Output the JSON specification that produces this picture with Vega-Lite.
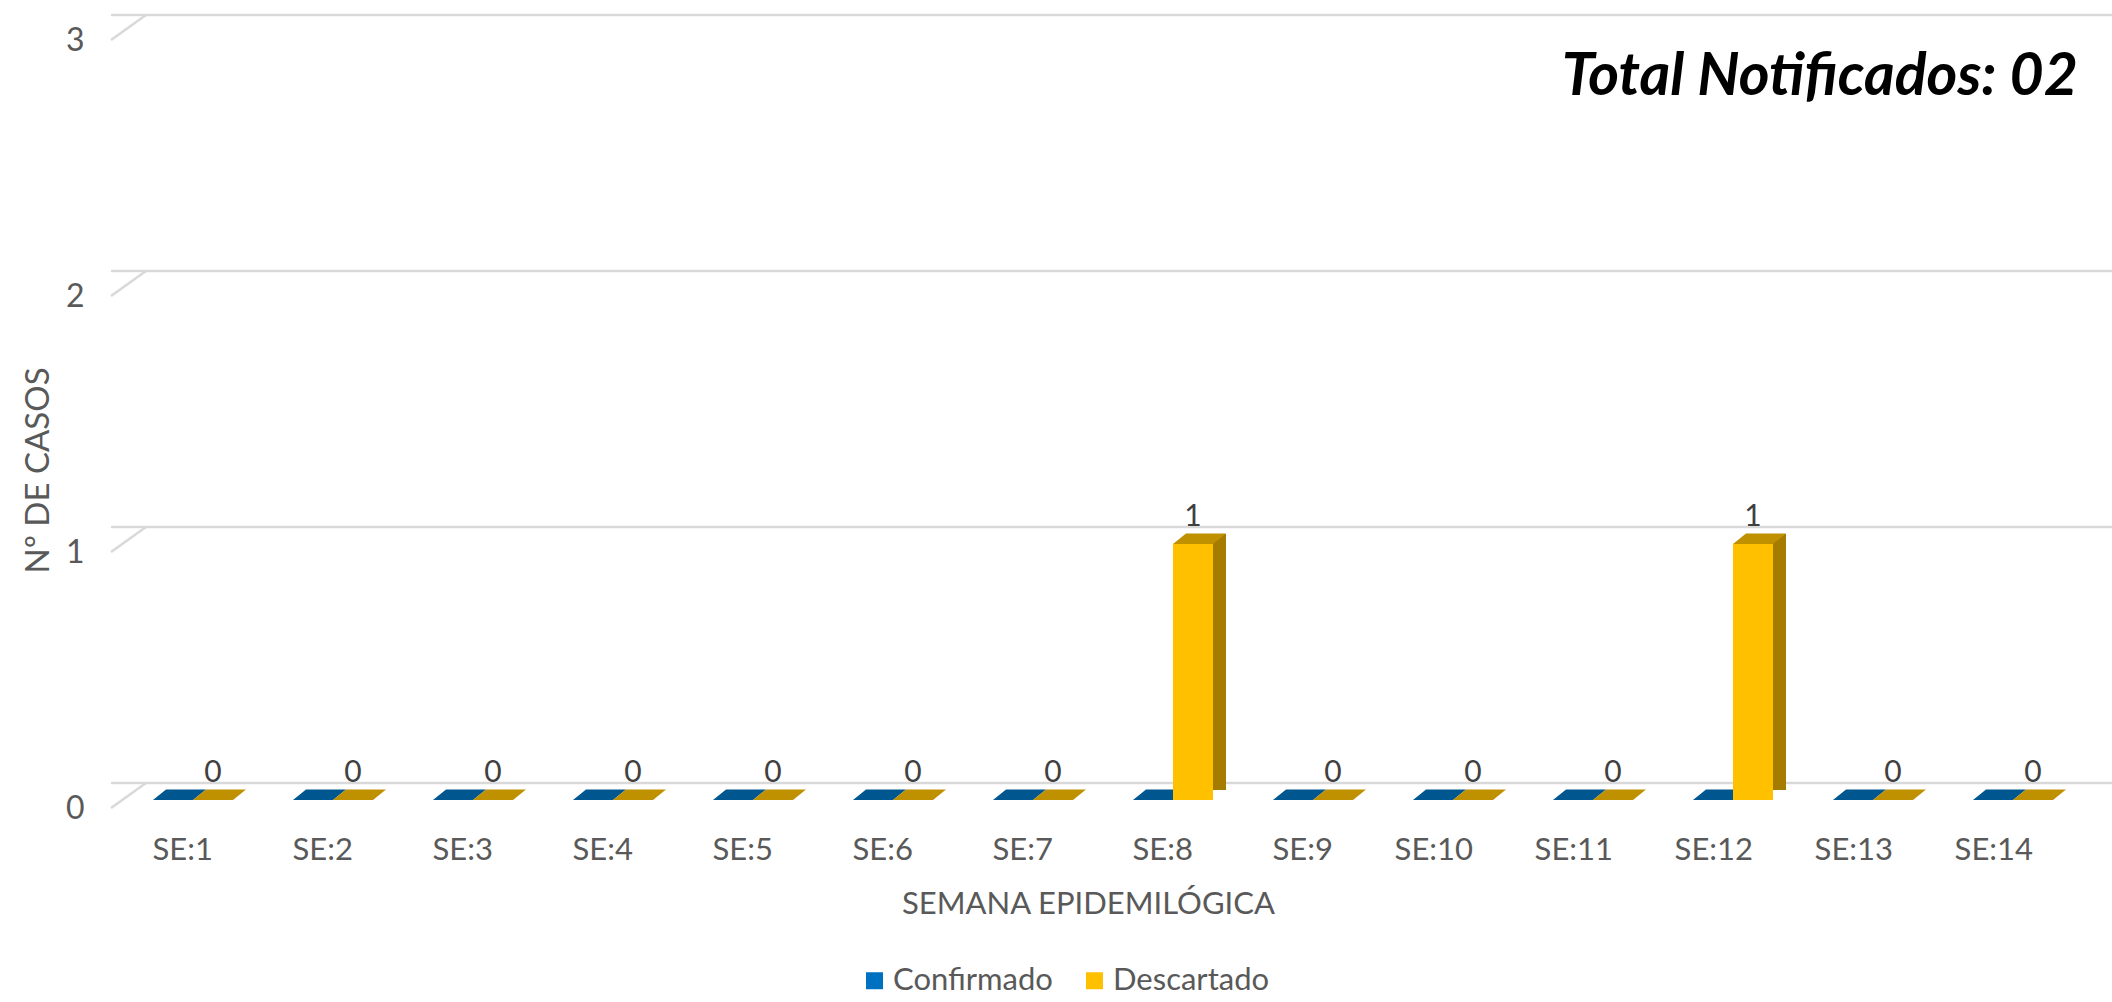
{
  "$schema": "https://vega.github.io/schema/vega-lite/v6.json",
  "width": 1984,
  "height": 768,
  "autosize": {"type": "none"},
  "padding": {"left": 111, "top": 32, "right": 17, "bottom": 202},
  "background": "white",
  "config": {"view": {"stroke": null}, "font": "Lato"},
  "title": {
    "text": "Total Notificados: 02",
    "orient": "top",
    "anchor": "end",
    "frame": "group",
    "offset": 0,
    "dx": -17,
    "dy": 140,
    "baseline": "alphabetic",
    "font": "Lato",
    "fontSize": 59,
    "fontStyle": "italic",
    "fontWeight": "bold",
    "color": "#000000"
  },
  "datasets": {
    "casos": [
      {"semana": "SE:1", "serie": "Confirmado", "casos": 0},
      {"semana": "SE:2", "serie": "Confirmado", "casos": 0},
      {"semana": "SE:3", "serie": "Confirmado", "casos": 0},
      {"semana": "SE:4", "serie": "Confirmado", "casos": 0},
      {"semana": "SE:5", "serie": "Confirmado", "casos": 0},
      {"semana": "SE:6", "serie": "Confirmado", "casos": 0},
      {"semana": "SE:7", "serie": "Confirmado", "casos": 0},
      {"semana": "SE:8", "serie": "Confirmado", "casos": 0},
      {"semana": "SE:9", "serie": "Confirmado", "casos": 0},
      {"semana": "SE:10", "serie": "Confirmado", "casos": 0},
      {"semana": "SE:11", "serie": "Confirmado", "casos": 0},
      {"semana": "SE:12", "serie": "Confirmado", "casos": 0},
      {"semana": "SE:13", "serie": "Confirmado", "casos": 0},
      {"semana": "SE:14", "serie": "Confirmado", "casos": 0},
      {"semana": "SE:1", "serie": "Descartado", "casos": 0},
      {"semana": "SE:2", "serie": "Descartado", "casos": 0},
      {"semana": "SE:3", "serie": "Descartado", "casos": 0},
      {"semana": "SE:4", "serie": "Descartado", "casos": 0},
      {"semana": "SE:5", "serie": "Descartado", "casos": 0},
      {"semana": "SE:6", "serie": "Descartado", "casos": 0},
      {"semana": "SE:7", "serie": "Descartado", "casos": 0},
      {"semana": "SE:8", "serie": "Descartado", "casos": 1},
      {"semana": "SE:9", "serie": "Descartado", "casos": 0},
      {"semana": "SE:10", "serie": "Descartado", "casos": 0},
      {"semana": "SE:11", "serie": "Descartado", "casos": 0},
      {"semana": "SE:12", "serie": "Descartado", "casos": 1},
      {"semana": "SE:13", "serie": "Descartado", "casos": 0},
      {"semana": "SE:14", "serie": "Descartado", "casos": 0}
    ],
    "grid": [{"t": 0}, {"t": 1}, {"t": 2}, {"t": 3}]
  },
  "layer": [
    {
      "data": {"name": "grid"},
      "mark": {"type": "rule", "color": "#D9D9D9", "strokeWidth": 2.5, "xOffset": 35, "x2Offset": 12, "yOffset": -17},
      "encoding": {
        "y": {"field": "t", "type": "quantitative", "scale": {"domain": [0, 3], "nice": false}}
      }
    },
    {
      "data": {"name": "grid"},
      "mark": {"type": "rule", "color": "#D9D9D9", "strokeWidth": 2.5, "yOffset": 8, "y2Offset": -17, "x2Offset": 35},
      "encoding": {
        "x": {"value": 0},
        "x2": {"value": 0},
        "y": {"field": "t", "type": "quantitative"},
        "y2": {"field": "t"}
      }
    },
    {
      "data": {"name": "casos"},
      "transform": [{"filter": "datum.serie === 'Descartado'"}],
      "mark": {"type": "bar", "width": 13, "xOffset": 46.5, "yOffset": -10, "y2Offset": -10, "color": "#A67C00"},
      "encoding": {
        "x": {"field": "semana", "type": "nominal", "sort": null, "scale": {"paddingInner": 0.4286, "paddingOuter": 0.3}},
        "y": {"field": "casos", "type": "quantitative"}
      }
    },
    {
      "data": {"name": "casos"},
      "mark": {"type": "point", "shape": "M -1 0 L 1 0 L 1.65 -0.525 L -0.35 -0.525 Z", "size": 1600, "filled": true, "opacity": 1, "strokeWidth": 0},
      "encoding": {
        "x": {"field": "semana", "type": "nominal", "sort": null},
        "xOffset": {"field": "serie", "type": "nominal", "sort": ["Confirmado", "Descartado"], "scale": {"paddingInner": 0, "paddingOuter": 0}},
        "y": {"field": "casos", "type": "quantitative"},
        "fill": {"condition": {"test": "datum.serie === 'Confirmado'", "value": "#00568F"}, "value": "#BF9000"}
      }
    },
    {
      "data": {"name": "casos"},
      "mark": {"type": "bar"},
      "encoding": {
        "x": {
          "field": "semana", "type": "nominal", "sort": null,
          "axis": {
            "title": "SEMANA EPIDEMILÓGICA",
            "bandPosition": 0.5,
            "labelAngle": 0,
            "domain": false,
            "ticks": false,
            "tickSize": 0,
            "labelPadding": 59,
            "labelBaseline": "alphabetic",
            "labelOffset": 20,
            "labelFontSize": 31,
            "labelColor": "#595959",
            "titleFontSize": 31,
            "titleColor": "#595959",
            "titleFontWeight": "normal",
            "titleX": 977,
            "titleY": 113,
            "titleBaseline": "alphabetic",
            "titleAlign": "center"
          }
        },
        "xOffset": {"field": "serie", "type": "nominal", "sort": ["Confirmado", "Descartado"]},
        "y": {
          "field": "casos", "type": "quantitative",
          "axis": {
            "title": "Nº DE CASOS",
            "values": [0, 1, 2, 3],
            "format": "d",
            "grid": false,
            "domain": false,
            "ticks": false,
            "tickSize": 0,
            "labelPadding": 27,
            "labelOffset": 8,
            "labelFontSize": 32,
            "labelColor": "#595959",
            "titleFontSize": 33,
            "titleColor": "#595959",
            "titleFontWeight": "normal",
            "titleX": -63,
            "titleY": 438,
            "titleBaseline": "alphabetic",
            "titleAlign": "center"
          }
        },
        "color": {
          "field": "serie", "type": "nominal",
          "scale": {"domain": ["Confirmado", "Descartado"], "range": ["#0070C0", "#FFC000"]},
          "legend": {
            "orient": "none",
            "legendX": 748,
            "legendY": 933,
            "direction": "horizontal",
            "title": null,
            "symbolType": "square",
            "symbolSize": 289,
            "symbolStrokeWidth": 0,
            "symbolOpacity": 1,
            "labelFont": "Lato",
            "labelFontSize": 31,
            "labelColor": "#595959",
            "labelOffset": 3,
            "columnPadding": 26,
            "padding": 0
          }
        }
      }
    },
    {
      "data": {"name": "casos"},
      "transform": [{"filter": "datum.serie === 'Descartado'"}],
      "mark": {"type": "text", "dy": -18, "baseline": "alphabetic", "fontSize": 30, "color": "#404040", "font": "Lato"},
      "encoding": {
        "x": {"field": "semana", "type": "nominal", "sort": null},
        "xOffset": {"field": "serie", "type": "nominal", "sort": ["Confirmado", "Descartado"]},
        "y": {"field": "casos", "type": "quantitative"},
        "text": {"field": "casos", "type": "quantitative"}
      }
    }
  ]
}
